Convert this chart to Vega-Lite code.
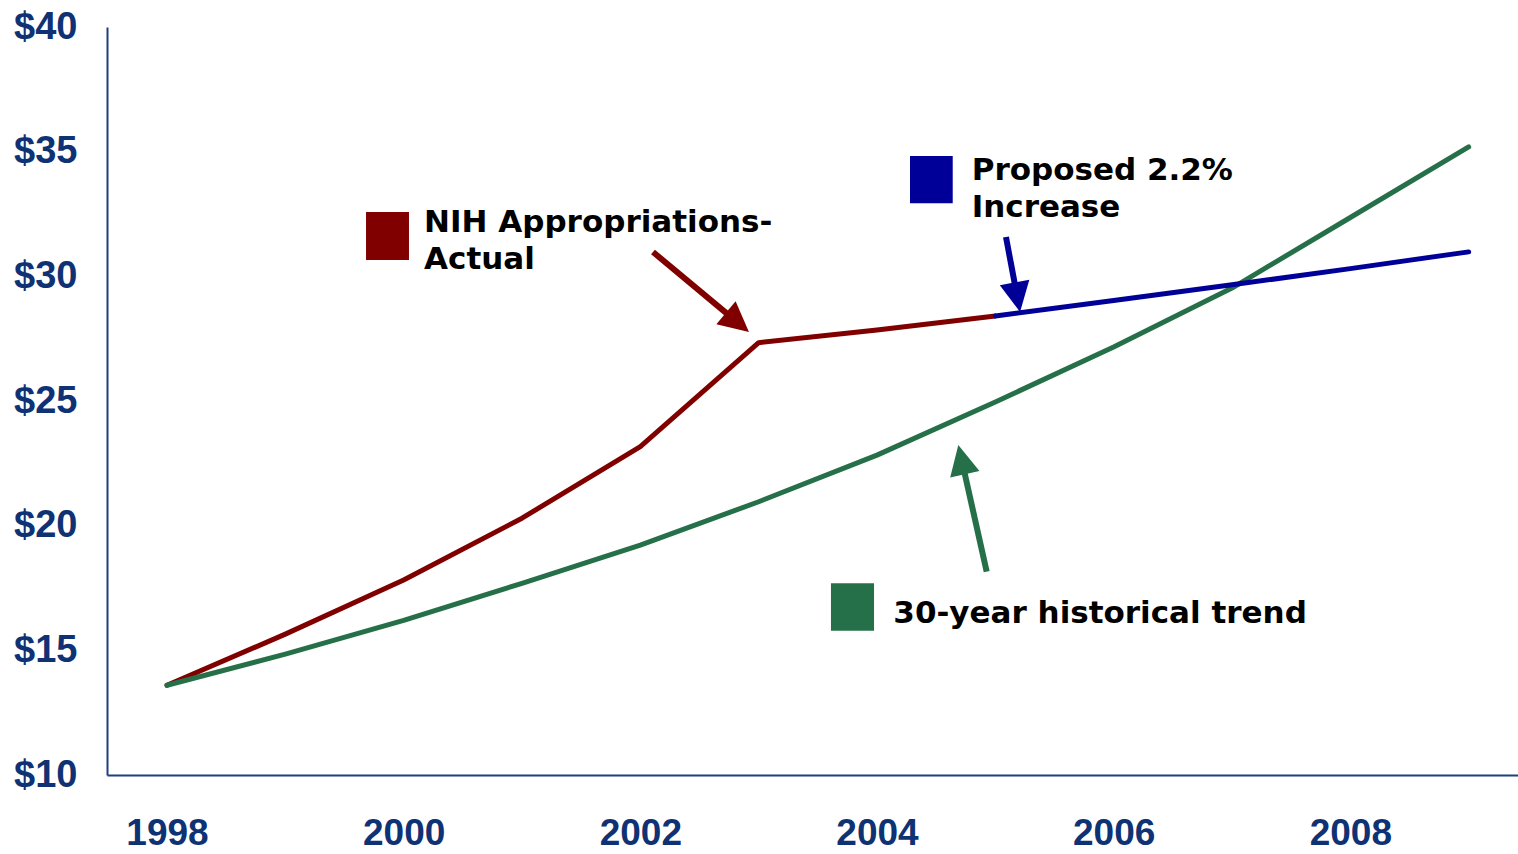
{
  "$schema": "https://vega.github.io/schema/vega-lite/v6.json",
  "width": 1411,
  "height": 748,
  "autosize": {"type": "none"},
  "padding": {"left": 107, "top": 27, "right": 0, "bottom": 79},
  "background": "white",
  "config": {"view": {"stroke": null}},
  "datasets": {
    "lines": [
      {"series": "Actual", "year": 1998, "value": 13.6},
      {"series": "Actual", "year": 1999, "value": 15.65},
      {"series": "Actual", "year": 2000, "value": 17.82},
      {"series": "Actual", "year": 2001, "value": 20.3},
      {"series": "Actual", "year": 2002, "value": 23.17},
      {"series": "Actual", "year": 2003, "value": 27.34},
      {"series": "Actual", "year": 2004, "value": 27.85},
      {"series": "Actual", "year": 2005, "value": 28.41},
      {"series": "Trend", "year": 1998, "value": 13.6},
      {"series": "Trend", "year": 1999, "value": 14.85},
      {"series": "Trend", "year": 2000, "value": 16.2},
      {"series": "Trend", "year": 2001, "value": 17.69},
      {"series": "Trend", "year": 2002, "value": 19.22},
      {"series": "Trend", "year": 2003, "value": 20.96},
      {"series": "Trend", "year": 2004, "value": 22.83},
      {"series": "Trend", "year": 2005, "value": 24.96},
      {"series": "Trend", "year": 2006, "value": 27.17},
      {"series": "Trend", "year": 2007, "value": 29.53},
      {"series": "Trend", "year": 2008, "value": 32.36},
      {"series": "Trend", "year": 2009, "value": 35.19},
      {"series": "Proposed", "year": 2005, "value": 28.41},
      {"series": "Proposed", "year": 2006, "value": 29.03},
      {"series": "Proposed", "year": 2007, "value": 29.66},
      {"series": "Proposed", "year": 2008, "value": 30.31},
      {"series": "Proposed", "year": 2009, "value": 30.98}
    ],
    "keys": [
      {"series": "Actual", "x": 1999.682, "x2": 2000.045, "y": 32.58, "y2": 30.655, "tx": 2000.172, "ty": 31.79, "label": "NIH Appropriations-\nActual"},
      {"series": "Proposed", "x": 2004.279, "x2": 2004.64, "y": 34.826, "y2": 32.93, "tx": 2004.8, "ty": 33.864, "label": "Proposed 2.2%\nIncrease"},
      {"series": "Trend", "x": 2003.611, "x2": 2003.975, "y": 17.689, "y2": 15.788, "tx": 2004.138, "ty": 16.084, "label": "30-year historical trend"}
    ],
    "arrows": [
      {"series": "Actual", "x0": 2002.107, "y0": 30.976, "x1": 2002.821, "y1": 28.153, "tipx": 2002.918, "tipy": 27.768},
      {"series": "Proposed", "x0": 2005.09, "y0": 31.578, "x1": 2005.187, "y1": 29.123, "tipx": 2005.209, "tipy": 28.57},
      {"series": "Trend", "x0": 2004.927, "y0": 18.154, "x1": 2004.715, "y1": 22.65, "tipx": 2004.687, "tipy": 23.235}
    ]
  },
  "layer": [
    {
      "data": {"name": "lines"},
      "transform": [{"filter": "datum.series == 'Actual'"}],
      "mark": {"type": "line", "strokeWidth": 5, "strokeCap": "round", "strokeJoin": "round"},
      "encoding": {
        "x": {
          "field": "year", "type": "quantitative",
          "scale": {"domain": [1997.493, 2009.417], "nice": false, "zero": false},
          "axis": {
            "values": [1998, 2000, 2002, 2004, 2006, 2008],
            "format": "d",
            "title": null,
            "grid": false,
            "ticks": false,
            "labelFlush": false,
            "labelFont": "Liberation Sans",
            "labelFontWeight": "bold",
            "labelFontSize": 37,
            "labelColor": "#0E3273",
            "labelPadding": 40,
            "domainColor": "#1F3F7F",
            "domainWidth": 2
          }
        },
        "y": {
          "field": "value", "type": "quantitative",
          "scale": {"domain": [10, 40], "nice": false, "zero": false},
          "axis": {
            "values": [10, 15, 20, 25, 30, 35, 40],
            "labelExpr": "'$' + datum.value",
            "title": null,
            "grid": false,
            "ticks": false,
            "labelFont": "Liberation Sans",
            "labelFontWeight": "bold",
            "labelFontSize": 38,
            "labelColor": "#0E3273",
            "labelPadding": 30,
            "labelFlush": false,
            "domainColor": "#1F3F7F",
            "domainWidth": 2
          }
        },
        "color": {
          "field": "series", "type": "nominal",
          "scale": {"domain": ["Actual", "Proposed", "Trend"], "range": ["#800000", "#000099", "#267049"]},
          "legend": null
        }
      }
    },
    {
      "data": {"name": "lines"},
      "transform": [{"filter": "datum.series == 'Trend'"}],
      "mark": {"type": "line", "strokeWidth": 5, "strokeCap": "round", "strokeJoin": "round"},
      "encoding": {
        "x": {"field": "year", "type": "quantitative"},
        "y": {"field": "value", "type": "quantitative"},
        "color": {"field": "series", "type": "nominal", "legend": null}
      }
    },
    {
      "data": {"name": "lines"},
      "transform": [{"filter": "datum.series == 'Proposed'"}],
      "mark": {"type": "line", "strokeWidth": 5, "strokeCap": "round", "strokeJoin": "round"},
      "encoding": {
        "x": {"field": "year", "type": "quantitative"},
        "y": {"field": "value", "type": "quantitative"},
        "color": {"field": "series", "type": "nominal", "legend": null}
      }
    },
    {
      "data": {"name": "keys"},
      "mark": {"type": "rect"},
      "encoding": {
        "x": {"field": "x", "type": "quantitative"},
        "x2": {"field": "x2"},
        "y": {"field": "y", "type": "quantitative"},
        "y2": {"field": "y2"},
        "color": {"field": "series", "type": "nominal", "legend": null}
      }
    },
    {
      "data": {"name": "keys"},
      "mark": {
        "type": "text",
        "align": "left",
        "baseline": "alphabetic",
        "font": "DejaVu Sans",
        "fontWeight": "bold",
        "fontSize": 31,
        "lineBreak": "\n",
        "lineHeight": 37,
        "color": "#000000"
      },
      "encoding": {
        "x": {"field": "tx", "type": "quantitative"},
        "y": {"field": "ty", "type": "quantitative"},
        "text": {"field": "label"}
      }
    },
    {
      "data": {"name": "arrows"},
      "mark": {"type": "rule", "strokeWidth": 6},
      "encoding": {
        "x": {"field": "x0", "type": "quantitative"},
        "y": {"field": "y0", "type": "quantitative"},
        "x2": {"field": "x1"},
        "y2": {"field": "y1"},
        "color": {"field": "series", "type": "nominal", "legend": null}
      }
    },
    {
      "data": {"name": "arrows"},
      "transform": [{"filter": "datum.series == 'Actual'"}],
      "mark": {"type": "point", "shape": "M0,0L-1,2L1,2Z", "size": 900, "filled": true, "opacity": 1, "strokeWidth": 0, "angle": 130},
      "encoding": {
        "x": {"field": "tipx", "type": "quantitative"},
        "y": {"field": "tipy", "type": "quantitative"},
        "color": {"field": "series", "type": "nominal", "legend": null}
      }
    },
    {
      "data": {"name": "arrows"},
      "transform": [{"filter": "datum.series == 'Proposed'"}],
      "mark": {"type": "point", "shape": "M0,0L-1,2L1,2Z", "size": 900, "filled": true, "opacity": 1, "strokeWidth": 0, "angle": 169.5},
      "encoding": {
        "x": {"field": "tipx", "type": "quantitative"},
        "y": {"field": "tipy", "type": "quantitative"},
        "color": {"field": "series", "type": "nominal", "legend": null}
      }
    },
    {
      "data": {"name": "arrows"},
      "transform": [{"filter": "datum.series == 'Trend'"}],
      "mark": {"type": "point", "shape": "M0,0L-1,2L1,2Z", "size": 900, "filled": true, "opacity": 1, "strokeWidth": 0, "angle": 347.4},
      "encoding": {
        "x": {"field": "tipx", "type": "quantitative"},
        "y": {"field": "tipy", "type": "quantitative"},
        "color": {"field": "series", "type": "nominal", "legend": null}
      }
    }
  ]
}
